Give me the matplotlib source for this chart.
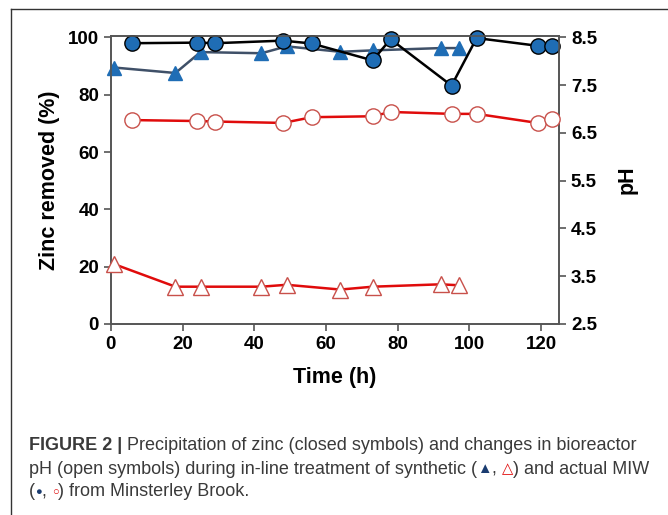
import matplotlib
matplotlib.use("Agg")
import matplotlib.pyplot as plt
from matplotlib.lines import Line2D

plt.rcParams["font.family"] = ["Liberation Sans", "DejaVu Sans"]

# zinc removal (%), synthetic MIW (closed triangles)
syn_t = [1, 18, 25, 42, 49, 64, 73, 92, 97]
syn_zinc = [89.5, 87.6, 94.9, 94.5, 96.9, 95.0, 95.5, 96.3, 96.3]
syn_ph = [3.75, 3.28, 3.28, 3.28, 3.32, 3.22, 3.28, 3.33, 3.31]

# actual MIW from Minsterley Brook (circles)
act_t = [6, 24, 29, 48, 56, 73, 78, 95, 102, 119, 123]
act_zinc = [98.0, 98.2, 98.0, 98.9, 97.9, 92.0, 99.4, 83.2, 99.8, 97.1, 97.1]
act_ph = [6.77, 6.75, 6.74, 6.71, 6.83, 6.85, 6.94, 6.90, 6.90, 6.71, 6.79]

x_ticks = [0, 20, 40, 60, 80, 100, 120]
zinc_ticks = [0, 20, 40, 60, 80, 100]
ph_ticks = [2.5, 3.5, 4.5, 5.5, 6.5, 7.5, 8.5]

blue = "#1f6db5"
red = "#e00b0b"
red_edge = "#c8504a"

fig = plt.figure(figsize=(6.68, 5.15), dpi=100)
ax = fig.add_axes([0.166, 0.371, 0.671, 0.559])
ax2 = ax.twinx()

ax.plot(syn_t, syn_zinc, color="#3f5068", lw=1.8, marker="^", ms=10,
        mfc=blue, mec=blue, zorder=3, clip_on=False)
ax.plot(act_t, act_zinc, color="black", lw=1.8, marker="o", ms=11,
        mfc=blue, mec="black", mew=1.0, zorder=4, clip_on=False)
ax2.plot(act_t, act_ph, color=red, lw=1.8, marker="o", ms=11,
         mfc="white", mec=red_edge, mew=1.0, zorder=3, clip_on=False)
ax2.plot(syn_t, syn_ph, color=red, lw=1.8, marker="^", ms=11,
         mfc="white", mec=red_edge, mew=1.0, zorder=3, clip_on=False)

ax.set_xlim(0, 125)
ax.set_ylim(0, 100.5)
ax2.set_ylim(2.5, 8.53)
ax.set_xticks(x_ticks)
ax.set_yticks(zinc_ticks)
ax2.set_yticks(ph_ticks)
ax2.set_yticklabels([f"{v:.1f}" for v in ph_ticks])

for a in (ax, ax2):
    for s in a.spines.values():
        s.set_color("#555555")
        s.set_linewidth(1.2)
    a.tick_params(labelsize=13.5, width=1.2, length=5, color="#555555")
    for lab in a.get_xticklabels() + a.get_yticklabels():
        lab.set_fontweight("bold")

ax.set_xlabel("Time (h)", fontsize=15.5, fontweight="bold", labelpad=10)
ax.set_ylabel("Zinc removed (%)", fontsize=15.5, fontweight="bold", labelpad=6)
ax2.set_ylabel("pH", fontsize=15.5, fontweight="bold", labelpad=14)

# outer frame
fig.add_artist(Line2D([11 / 668, 11 / 668], [0, 1 - 9 / 515], color="#333333", lw=1.0))
fig.add_artist(Line2D([11 / 668, 1], [1 - 9 / 515, 1 - 9 / 515], color="#333333", lw=1.0))

# caption, built from pieces so the symbols can be coloured
cap_col = "#3a3a3a"
navy = "#1a3c70"
lines = [
    [("FIGURE 2 | ", cap_col, "bold", 13),
     ("Precipitation of zinc (closed symbols) and changes in bioreactor", cap_col, "normal", 13)],
    [("pH (open symbols) during in-line treatment of synthetic (", cap_col, "normal", 13),
     ("\u25B2", navy, "normal", 10.5), (", ", cap_col, "normal", 13),
     ("\u25B3", red, "normal", 10.5), (") and actual MIW", cap_col, "normal", 13)],
    [("(", cap_col, "normal", 13), ("\u25CF", navy, "normal", 8), (", ", cap_col, "normal", 13),
     ("\u25CB", red, "normal", 8), (") from Minsterley Brook.", cap_col, "normal", 13)],
]
fig.canvas.draw()
renderer = fig.canvas.get_renderer()
y0 = 515 - 446
for i, pieces in enumerate(lines):
    x = 29
    y = y0 - i * 23
    for txt, col, wt, fs in pieces:
        t = fig.text(x / 668, y / 515, txt, color=col, fontsize=fs, fontweight=wt,
                     va="center", ha="left", family=["Liberation Sans", "DejaVu Sans"])
        bb = t.get_window_extent(renderer=renderer)
        x += bb.width

fig.savefig("out.png", dpi=100)
